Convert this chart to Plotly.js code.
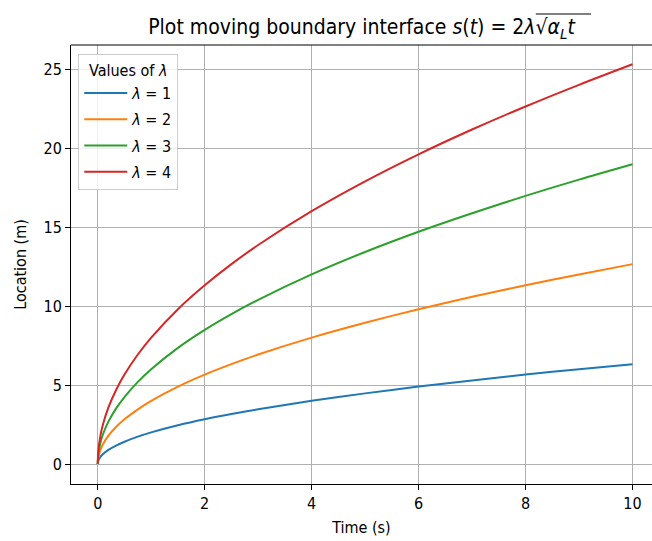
<!DOCTYPE html>
<html>
<head>
<meta charset="utf-8">
<script src="https://cdn.plot.ly/plotly-3.0.1.min.js"></script>
<style>html,body{margin:0;padding:0;background:#fff;}</style>
</head>
<body>
<div id="chart" style="width:652px;height:541px;"></div>
<script>
const timeS = [0, 0.01, 0.05, 0.1, 0.2, 0.35, 0.5, 0.75, 1, 1.5, 2, 2.5, 3, 4, 5, 6, 7, 8, 9, 10];
const lambda1 = [0, 0.2, 0.45, 0.63, 0.89, 1.18, 1.41, 1.73, 2.0, 2.45, 2.83, 3.16, 3.46, 4.0, 4.47, 4.9, 5.29, 5.66, 6.0, 6.32];
const lambda2 = [0, 0.4, 0.89, 1.26, 1.79, 2.37, 2.83, 3.46, 4.0, 4.9, 5.66, 6.32, 6.93, 8.0, 8.94, 9.8, 10.58, 11.31, 12.0, 12.65];
const lambda3 = [0, 0.6, 1.34, 1.9, 2.68, 3.55, 4.24, 5.2, 6.0, 7.35, 8.49, 9.49, 10.39, 12.0, 13.42, 14.7, 15.87, 16.97, 18.0, 18.97];
const lambda4 = [0, 0.8, 1.79, 2.53, 3.58, 4.73, 5.66, 6.93, 8.0, 9.8, 11.31, 12.65, 13.86, 16.0, 17.89, 19.6, 21.17, 22.63, 24.0, 25.3];
const seriesNames = ['<i>λ</i> = 1', '<i>λ</i> = 2', '<i>λ</i> = 3', '<i>λ</i> = 4'];
const seriesColors = ['#1f77b4', '#ff7f0e', '#2ca02c', '#d62728'];
const xTicks = [0, 2, 4, 6, 8, 10];
const yTicks = [0, 5, 10, 15, 20, 25];

const allSeries = [lambda1, lambda2, lambda3, lambda4];
const traces = allSeries.map((ys, i) => ({
  x: timeS, y: ys, type: 'scatter', mode: 'lines',
  name: seriesNames[i], legendgroup: 'g' + i,
  line: {color: seriesColors[i], width: 2, shape: 'spline', smoothing: 0.8}
}));

const fam = '"DejaVu Sans Condensed", "DejaVu Sans", sans-serif';
const font = {family: fam, size: 16, color: '#000'};
const axisCommon = {
  showline: true, linecolor: '#000', linewidth: 1,
  ticks: 'outside', ticklen: 5, tickwidth: 1, tickcolor: '#000',
  showgrid: true, gridcolor: '#b0b0b0', gridwidth: 1,
  zeroline: false, tickfont: font
};

const layout = {
  width: 652, height: 541,
  paper_bgcolor: '#fff', plot_bgcolor: '#fff',
  margin: {l: 71, r: 0, t: 45, b: 57},
  font: font,
  title: {
    text: 'Plot moving boundary interface <i>s</i>(<i>t</i>) = 2<i>λ</i>√<i>α<sub>L</sub>t</i>',
    font: {family: fam, size: 21, color: '#000'},
    x: 0.5, xref: 'paper', xanchor: 'center', y: 0.95, yanchor: 'middle'
  },
  xaxis: Object.assign({}, axisCommon, {
    range: [-0.5, 10.365], tickvals: xTicks,
    title: {text: 'Time (s)', font: font, standoff: 9}
  }),
  yaxis: Object.assign({}, axisCommon, {
    range: [-1.266, 26.52], tickvals: yTicks,
    title: {text: 'Location (m)', font: font, standoff: 12}
  }),
  legend: {
    x: 0.0125, y: 0.979, xanchor: 'left', yanchor: 'top',
    bgcolor: 'rgba(255,255,255,0.8)', bordercolor: '#cccccc', borderwidth: 1,
    font: font, itemwidth: 43, traceorder: 'grouped', tracegroupgap: 2.5,
    title: {text: 'Values of <i>λ</i>', font: font, side: 'top center'}
  },
  shapes: [
    {type: 'line', xref: 'paper', yref: 'paper', x0: 0, x1: 1, y0: 1, y1: 1,
     line: {color: '#000', width: 1}},
    {type: 'line', xref: 'paper', yref: 'paper', x0: 0.80, x1: 0.895, y0: 1.0706, y1: 1.0706,
     line: {color: '#000', width: 1}}
  ]
};

Plotly.newPlot('chart', traces, layout, {displayModeBar: false, staticPlot: true});
</script>
</body>
</html>
